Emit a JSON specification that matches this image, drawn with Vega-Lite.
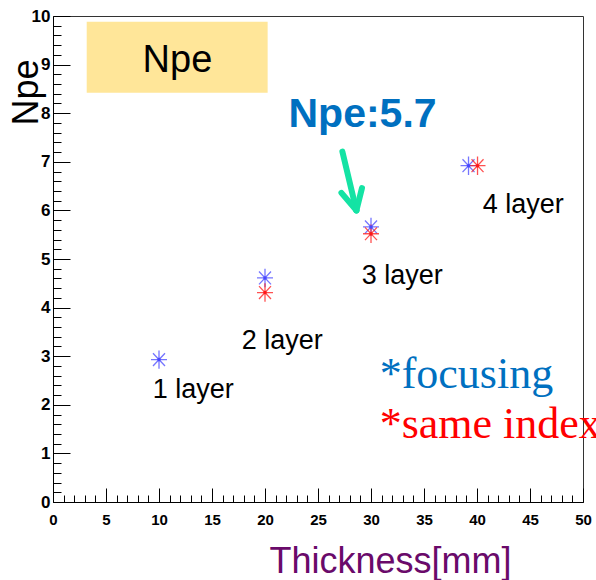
{
  "$schema": "https://vega.github.io/schema/vega-lite/v6.json",
  "width": 530,
  "height": 486,
  "autosize": "none",
  "padding": {"left": 53, "top": 16, "right": 13, "bottom": 78},
  "background": "white",
  "config": {
    "view": {"stroke": "#333333", "strokeWidth": 1},
    "axis": {"grid": false}
  },
  "datasets": {
    "box": [{"x": 3.18, "x2": 20.25, "y": 9.88, "y2": 8.42, "text": "Npe", "tx": 11.74, "ty": 8.84}],
    "points": [
      {"series": "focusing", "thickness": 10, "npe": 2.93},
      {"series": "focusing", "thickness": 20, "npe": 4.61},
      {"series": "focusing", "thickness": 30, "npe": 5.66},
      {"series": "focusing", "thickness": 39.2, "npe": 6.92},
      {"series": "same index", "thickness": 20, "npe": 4.31},
      {"series": "same index", "thickness": 30, "npe": 5.52},
      {"series": "same index", "thickness": 40.05, "npe": 6.92}
    ],
    "layerLabels": [
      {"text": "1 layer", "x": 9.41, "y": 2.15},
      {"text": "2 layer", "x": 17.8, "y": 3.15},
      {"text": "3 layer", "x": 29.12, "y": 4.49},
      {"text": "4 layer", "x": 40.54, "y": 5.95}
    ],
    "headline": [{"text": "Npe:5.7", "x": 29.2, "y": 7.72}],
    "legendText": [
      {"text": "*focusing", "series": "focusing", "x": 30.82, "y": 2.35},
      {"text": "*same index", "series": "same index", "x": 30.82, "y": 1.32}
    ],
    "arrow": [
      {"x": 27.3, "y": 7.21, "x2": 28.62, "y2": 6.0},
      {"x": 27.21, "y": 6.36, "x2": 28.62, "y2": 6.0},
      {"x": 29.15, "y": 6.46, "x2": 28.62, "y2": 6.0}
    ]
  },
  "layer": [
    {
      "data": {"name": "box"},
      "mark": {"type": "rect", "color": "#ffe699"},
      "encoding": {
        "x": {
          "field": "x", "type": "quantitative",
          "title": "Thickness[mm]",
          "scale": {"domain": [0, 50], "nice": false, "zero": false},
          "axis": {
            "values": [0,1,2,3,4,5,6,7,8,9,10,11,12,13,14,15,16,17,18,19,20,21,22,23,24,25,26,27,28,29,30,31,32,33,34,35,36,37,38,39,40,41,42,43,44,45,46,47,48,49,50],
            "tickCount": 60,
            "labelExpr": "datum.value % 5 === 0 ? format(datum.value, 'd') : ''",
            "tickSize": {"condition": {"test": "datum.value % 5 === 0", "value": -14}, "value": -7},
            "tickColor": "black",
            "tickWidth": 1,
            "domainColor": "black",
            "labelPadding": 24,
            "labelFlush": false,
            "labelOverlap": false,
            "labelBound": false,
            "labelFont": "Liberation Sans",
            "labelFontWeight": "bold",
            "labelFontSize": 15,
            "labelColor": "black",
            "titleFont": "Liberation Sans",
            "titleFontSize": 36,
            "titleFontWeight": "normal",
            "titleColor": "#6a0a6a",
            "titleAlign": "center",
            "titleBaseline": "alphabetic",
            "titleX": 337,
            "titleY": 70
          }
        },
        "x2": {"field": "x2"},
        "y": {
          "field": "y", "type": "quantitative",
          "title": "Npe",
          "scale": {"domain": [0, 10], "nice": false},
          "axis": {
            "values": [0,0.2,0.4,0.6,0.8,1,1.2,1.4,1.6,1.8,2,2.2,2.4,2.6,2.8,3,3.2,3.4,3.6,3.8,4,4.2,4.4,4.6,4.8,5,5.2,5.4,5.6,5.8,6,6.2,6.4,6.6,6.8,7,7.2,7.4,7.6,7.8,8,8.2,8.4,8.6,8.8,9,9.2,9.4,9.6,9.8,10],
            "tickCount": 60,
            "labelExpr": "abs(datum.value - round(datum.value)) < 0.01 ? format(datum.value, 'd') : ''",
            "tickSize": {"condition": {"test": "abs(datum.value - round(datum.value)) < 0.01", "value": -17}, "value": -8},
            "tickColor": "black",
            "tickWidth": 1,
            "domainColor": "black",
            "labelPadding": 20,
            "labelFlush": false,
            "labelOverlap": false,
            "labelBound": false,
            "labelFont": "Liberation Sans",
            "labelFontWeight": "bold",
            "labelFontSize": 17,
            "labelColor": "black",
            "titleFont": "Liberation Sans",
            "titleFontSize": 36,
            "titleFontWeight": "normal",
            "titleColor": "black",
            "titleAngle": 270,
            "titleAlign": "left",
            "titleBaseline": "alphabetic",
            "titleX": -16,
            "titleY": 109
          }
        },
        "y2": {"field": "y2"}
      }
    },
    {
      "data": {"name": "box"},
      "mark": {"type": "text", "font": "Liberation Sans", "fontSize": 38, "align": "center", "baseline": "alphabetic", "color": "black"},
      "encoding": {
        "x": {"field": "tx", "type": "quantitative"},
        "y": {"field": "ty", "type": "quantitative"},
        "text": {"field": "text"}
      }
    },
    {
      "data": {"name": "arrow"},
      "mark": {"type": "rule", "color": "#14e3a4", "strokeWidth": 6, "strokeCap": "round"},
      "encoding": {
        "x": {"field": "x", "type": "quantitative"},
        "y": {"field": "y", "type": "quantitative"},
        "x2": {"field": "x2"},
        "y2": {"field": "y2"}
      }
    },
    {
      "data": {"name": "points"},
      "mark": {"type": "point", "shape": "M0,-1.15L0,1.15M-1,0L1,0M-0.75,-0.8L0.75,0.8M-0.75,0.8L0.75,-0.8", "filled": false, "size": 256, "strokeWidth": 1.3, "opacity": 0.75},
      "encoding": {
        "x": {"field": "thickness", "type": "quantitative"},
        "y": {"field": "npe", "type": "quantitative"},
        "color": {"field": "series", "type": "nominal", "scale": {"domain": ["focusing", "same index"], "range": ["#4848ff", "#ff1818"]}, "legend": null}
      }
    },
    {
      "data": {"name": "points"},
      "mark": {"type": "point", "shape": "circle", "filled": true, "size": 12, "opacity": 1},
      "encoding": {
        "x": {"field": "thickness", "type": "quantitative"},
        "y": {"field": "npe", "type": "quantitative"},
        "color": {"field": "series", "type": "nominal", "legend": null}
      }
    },
    {
      "data": {"name": "layerLabels"},
      "mark": {"type": "text", "font": "Liberation Sans", "fontSize": 27, "align": "left", "baseline": "alphabetic", "color": "black"},
      "encoding": {
        "x": {"field": "x", "type": "quantitative"},
        "y": {"field": "y", "type": "quantitative"},
        "text": {"field": "text"}
      }
    },
    {
      "data": {"name": "headline"},
      "mark": {"type": "text", "font": "Liberation Sans", "fontSize": 41, "fontWeight": "bold", "align": "center", "baseline": "alphabetic", "color": "#0070c0"},
      "encoding": {
        "x": {"field": "x", "type": "quantitative"},
        "y": {"field": "y", "type": "quantitative"},
        "text": {"field": "text"}
      }
    },
    {
      "data": {"name": "legendText"},
      "mark": {"type": "text", "font": "Liberation Serif", "fontSize": 44, "align": "left", "baseline": "alphabetic"},
      "encoding": {
        "x": {"field": "x", "type": "quantitative"},
        "y": {"field": "y", "type": "quantitative"},
        "text": {"field": "text"},
        "fill": {"condition": {"test": "datum.series === 'focusing'", "value": "#0070c0"}, "value": "#ff0000"}
      }
    }
  ]
}
